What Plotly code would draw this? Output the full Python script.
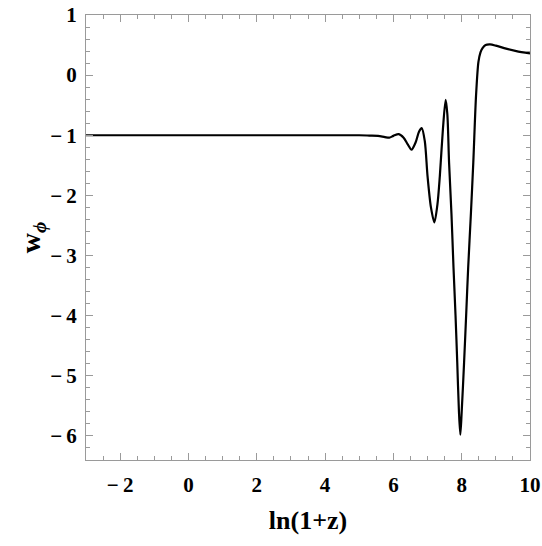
import plotly.graph_objects as go

# Values
x_vals = [-3.0, -1.0, 1.0, 3.0, 4.5, 5.0, 5.3, 5.55, 5.75, 5.88, 6.0, 6.16, 6.3, 6.42,
          6.53, 6.65, 6.75, 6.83, 6.92, 7.0, 7.1, 7.2, 7.29, 7.36, 7.45, 7.53,
          7.58, 7.63, 7.7, 7.76, 7.82, 7.87, 7.92, 7.96, 8.0, 8.07, 8.13, 8.19,
          8.27, 8.34, 8.42, 8.49, 8.55, 8.61, 8.7, 8.83, 9.0, 9.3, 9.6, 10.0]
y_vals = [-1.0, -1.0, -1.0, -1.0, -1.0, -1.0, -1.005, -1.01, -1.03, -1.04, -1.01, -0.98, -1.04, -1.15,
          -1.24, -1.12, -0.94, -0.88, -1.1, -1.68, -2.2, -2.45, -2.15, -1.68, -0.9, -0.41,
          -0.65, -1.45, -2.3, -3.2, -4.0, -4.78, -5.6, -5.98, -5.6, -4.78, -4.0, -3.2,
          -2.3, -1.45, -0.34, 0.22, 0.38, 0.45, 0.5, 0.51, 0.49, 0.44, 0.4, 0.36]

x_ticks = [-2, 0, 2, 4, 6, 8, 10]
y_ticks = [1, 0, -1, -2, -3, -4, -5, -6]

def lab(v):
    s = ("\u2212\u2009" + str(-v)) if v < 0 else str(v)
    return "<b>" + s + "</b>"

font_family = "Liberation Serif"

fig = go.Figure()
fig.add_trace(go.Scatter(x=x_vals, y=y_vals, mode="lines",
                         line=dict(color="black", width=2.2, shape="spline", smoothing=0.8),
                         showlegend=False, hoverinfo="skip"))

axis_common = dict(
    showgrid=False, zeroline=False, showline=True, linecolor="#9a9a9a", linewidth=1,
    mirror="allticks", ticks="inside", ticklen=7, tickcolor="#9a9a9a", tickwidth=1,
    tickfont=dict(family=font_family, size=21, color="black"), automargin=False,
)

fig.update_xaxes(range=[-3, 10], tickvals=x_ticks, ticktext=[lab(v) for v in x_ticks],
                 minor=dict(dtick=0.5, tick0=0, ticks="inside", ticklen=4, tickcolor="#9a9a9a"),
                 ticklabelstandoff=6,
                 title=dict(text="<b>ln(1+z)</b>", font=dict(family=font_family, size=26, color="black"),
                            standoff=14),
                 **axis_common)
fig.update_yaxes(range=[-6.4, 1.0], tickvals=y_ticks, ticktext=[lab(v) for v in y_ticks],
                 minor=dict(dtick=0.2, tick0=0, ticks="inside", ticklen=4, tickcolor="#9a9a9a"),
                 ticklabelstandoff=4,
                 title=dict(text="<b>w</b><sub><b><i>\u03d5</i></b></sub>",
                            font=dict(family=font_family, size=28, color="black"), standoff=0),
                 **axis_common)

fig.update_layout(width=542, height=546, margin=dict(l=86, r=12, t=15, b=86),
                  plot_bgcolor="white", paper_bgcolor="white")

fig.write_html("out.html")
